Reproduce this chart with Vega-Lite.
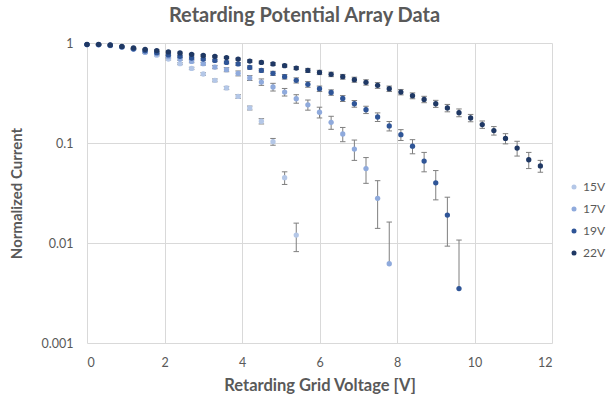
{
  "$schema": "https://vega.github.io/schema/vega-lite/v6.json",
  "width": 465,
  "height": 300,
  "autosize": {"type": "none"},
  "padding": {"left": 87, "top": 43, "right": 55, "bottom": 57},
  "background": "white",
  "title": {
    "text": "Retarding Potential Array Data",
    "font": "Lato",
    "fontSize": 20,
    "fontWeight": "bold",
    "color": "#595959",
    "anchor": "middle",
    "dx": -15,
    "offset": 11
  },
  "config": {
    "view": {"stroke": null},
    "axis": {
      "labelFont": "Lato",
      "labelFontSize": 12.5,
      "labelColor": "#595959",
      "titleFont": "Lato",
      "titleFontSize": 15,
      "titleFontWeight": "bold",
      "titleColor": "#595959",
      "gridColor": "#d9d9d9",
      "gridWidth": 1,
      "domain": false,
      "ticks": false
    },
    "legend": {
      "labelFont": "Lato",
      "labelFontSize": 12,
      "labelColor": "#595959"
    }
  },
  "data": {
    "values": [
      {"s":"15V","x":0,"y":0.965,"lo":0.955,"hi":0.975},
      {"s":"15V","x":0.3,"y":0.96,"lo":0.95,"hi":0.97},
      {"s":"15V","x":0.6,"y":0.94,"lo":0.93,"hi":0.95},
      {"s":"15V","x":0.9,"y":0.905,"lo":0.895,"hi":0.915},
      {"s":"15V","x":1.2,"y":0.865,"lo":0.855,"hi":0.875},
      {"s":"15V","x":1.5,"y":0.805,"lo":0.793,"hi":0.817},
      {"s":"15V","x":1.8,"y":0.755,"lo":0.743,"hi":0.767},
      {"s":"15V","x":2.1,"y":0.69,"lo":0.676,"hi":0.704},
      {"s":"15V","x":2.4,"y":0.621,"lo":0.607,"hi":0.635},
      {"s":"15V","x":2.7,"y":0.557,"lo":0.542,"hi":0.572},
      {"s":"15V","x":3.0,"y":0.49,"lo":0.475,"hi":0.505},
      {"s":"15V","x":3.3,"y":0.423,"lo":0.409,"hi":0.437},
      {"s":"15V","x":3.6,"y":0.355,"lo":0.342,"hi":0.368},
      {"s":"15V","x":3.9,"y":0.292,"lo":0.28,"hi":0.304},
      {"s":"15V","x":4.2,"y":0.224,"lo":0.214,"hi":0.234},
      {"s":"15V","x":4.5,"y":0.165,"lo":0.155,"hi":0.175},
      {"s":"15V","x":4.8,"y":0.103,"lo":0.095,"hi":0.111},
      {"s":"15V","x":5.1,"y":0.045,"lo":0.0385,"hi":0.0515},
      {"s":"15V","x":5.4,"y":0.012,"lo":0.0082,"hi":0.0158},

      {"s":"17V","x":0,"y":0.965,"lo":0.955,"hi":0.975},
      {"s":"17V","x":0.3,"y":0.96,"lo":0.95,"hi":0.97},
      {"s":"17V","x":0.6,"y":0.945,"lo":0.935,"hi":0.955},
      {"s":"17V","x":0.9,"y":0.91,"lo":0.898,"hi":0.922},
      {"s":"17V","x":1.2,"y":0.87,"lo":0.858,"hi":0.882},
      {"s":"17V","x":1.5,"y":0.81,"lo":0.795,"hi":0.825},
      {"s":"17V","x":1.8,"y":0.78,"lo":0.765,"hi":0.795},
      {"s":"17V","x":2.1,"y":0.73,"lo":0.712,"hi":0.748},
      {"s":"17V","x":2.4,"y":0.69,"lo":0.672,"hi":0.708},
      {"s":"17V","x":2.7,"y":0.655,"lo":0.635,"hi":0.675},
      {"s":"17V","x":3.0,"y":0.621,"lo":0.601,"hi":0.641},
      {"s":"17V","x":3.3,"y":0.575,"lo":0.553,"hi":0.597},
      {"s":"17V","x":3.6,"y":0.541,"lo":0.516,"hi":0.566},
      {"s":"17V","x":3.9,"y":0.497,"lo":0.469,"hi":0.525},
      {"s":"17V","x":4.2,"y":0.447,"lo":0.422,"hi":0.472},
      {"s":"17V","x":4.5,"y":0.407,"lo":0.377,"hi":0.437},
      {"s":"17V","x":4.8,"y":0.363,"lo":0.331,"hi":0.395},
      {"s":"17V","x":5.1,"y":0.323,"lo":0.295,"hi":0.351},
      {"s":"17V","x":5.4,"y":0.277,"lo":0.25,"hi":0.304},
      {"s":"17V","x":5.7,"y":0.241,"lo":0.213,"hi":0.269},
      {"s":"17V","x":6.0,"y":0.203,"lo":0.178,"hi":0.228},
      {"s":"17V","x":6.3,"y":0.161,"lo":0.137,"hi":0.185},
      {"s":"17V","x":6.6,"y":0.123,"lo":0.103,"hi":0.143},
      {"s":"17V","x":6.9,"y":0.087,"lo":0.067,"hi":0.107},
      {"s":"17V","x":7.2,"y":0.0555,"lo":0.0395,"hi":0.0715},
      {"s":"17V","x":7.5,"y":0.028,"lo":0.014,"hi":0.042},
      {"s":"17V","x":7.8,"y":0.0062,"lo":-0.0038,"hi":0.0162},

      {"s":"19V","x":0,"y":0.965,"lo":0.955,"hi":0.975},
      {"s":"19V","x":0.3,"y":0.965,"lo":0.955,"hi":0.975},
      {"s":"19V","x":0.6,"y":0.95,"lo":0.94,"hi":0.96},
      {"s":"19V","x":0.9,"y":0.915,"lo":0.905,"hi":0.925},
      {"s":"19V","x":1.2,"y":0.875,"lo":0.865,"hi":0.885},
      {"s":"19V","x":1.5,"y":0.835,"lo":0.82,"hi":0.85},
      {"s":"19V","x":1.8,"y":0.8,"lo":0.785,"hi":0.815},
      {"s":"19V","x":2.1,"y":0.76,"lo":0.745,"hi":0.775},
      {"s":"19V","x":2.4,"y":0.735,"lo":0.717,"hi":0.753},
      {"s":"19V","x":2.7,"y":0.708,"lo":0.69,"hi":0.726},
      {"s":"19V","x":3.0,"y":0.69,"lo":0.672,"hi":0.708},
      {"s":"19V","x":3.3,"y":0.67,"lo":0.65,"hi":0.69},
      {"s":"19V","x":3.6,"y":0.64,"lo":0.62,"hi":0.66},
      {"s":"19V","x":3.9,"y":0.617,"lo":0.597,"hi":0.637},
      {"s":"19V","x":4.2,"y":0.57,"lo":0.548,"hi":0.592},
      {"s":"19V","x":4.5,"y":0.532,"lo":0.51,"hi":0.554},
      {"s":"19V","x":4.8,"y":0.497,"lo":0.473,"hi":0.521},
      {"s":"19V","x":5.1,"y":0.46,"lo":0.436,"hi":0.484},
      {"s":"19V","x":5.4,"y":0.423,"lo":0.398,"hi":0.448},
      {"s":"19V","x":5.7,"y":0.386,"lo":0.361,"hi":0.411},
      {"s":"19V","x":6.0,"y":0.349,"lo":0.327,"hi":0.371},
      {"s":"19V","x":6.3,"y":0.32,"lo":0.30,"hi":0.34},
      {"s":"19V","x":6.6,"y":0.279,"lo":0.26,"hi":0.298},
      {"s":"19V","x":6.9,"y":0.247,"lo":0.228,"hi":0.266},
      {"s":"19V","x":7.2,"y":0.215,"lo":0.197,"hi":0.233},
      {"s":"19V","x":7.5,"y":0.182,"lo":0.164,"hi":0.20},
      {"s":"19V","x":7.8,"y":0.148,"lo":0.132,"hi":0.164},
      {"s":"19V","x":8.1,"y":0.121,"lo":0.106,"hi":0.136},
      {"s":"19V","x":8.4,"y":0.093,"lo":0.078,"hi":0.108},
      {"s":"19V","x":8.7,"y":0.066,"lo":0.0515,"hi":0.0805},
      {"s":"19V","x":9.0,"y":0.040,"lo":0.027,"hi":0.053},
      {"s":"19V","x":9.3,"y":0.019,"lo":0.0093,"hi":0.0287},
      {"s":"19V","x":9.6,"y":0.0035,"lo":-0.0037,"hi":0.0107},

      {"s":"22V","x":0,"y":0.97,"lo":0.96,"hi":0.98},
      {"s":"22V","x":0.3,"y":0.97,"lo":0.96,"hi":0.98},
      {"s":"22V","x":0.6,"y":0.955,"lo":0.945,"hi":0.965},
      {"s":"22V","x":0.9,"y":0.925,"lo":0.915,"hi":0.935},
      {"s":"22V","x":1.2,"y":0.895,"lo":0.885,"hi":0.905},
      {"s":"22V","x":1.5,"y":0.865,"lo":0.855,"hi":0.875},
      {"s":"22V","x":1.8,"y":0.84,"lo":0.825,"hi":0.855},
      {"s":"22V","x":2.1,"y":0.815,"lo":0.80,"hi":0.83},
      {"s":"22V","x":2.4,"y":0.795,"lo":0.78,"hi":0.81},
      {"s":"22V","x":2.7,"y":0.77,"lo":0.755,"hi":0.785},
      {"s":"22V","x":3.0,"y":0.75,"lo":0.735,"hi":0.765},
      {"s":"22V","x":3.3,"y":0.735,"lo":0.72,"hi":0.75},
      {"s":"22V","x":3.6,"y":0.715,"lo":0.70,"hi":0.73},
      {"s":"22V","x":3.9,"y":0.69,"lo":0.675,"hi":0.705},
      {"s":"22V","x":4.2,"y":0.66,"lo":0.64,"hi":0.68},
      {"s":"22V","x":4.5,"y":0.64,"lo":0.62,"hi":0.66},
      {"s":"22V","x":4.8,"y":0.617,"lo":0.597,"hi":0.637},
      {"s":"22V","x":5.1,"y":0.593,"lo":0.573,"hi":0.613},
      {"s":"22V","x":5.4,"y":0.562,"lo":0.542,"hi":0.582},
      {"s":"22V","x":5.7,"y":0.532,"lo":0.507,"hi":0.557},
      {"s":"22V","x":6.0,"y":0.508,"lo":0.483,"hi":0.533},
      {"s":"22V","x":6.3,"y":0.486,"lo":0.461,"hi":0.511},
      {"s":"22V","x":6.6,"y":0.46,"lo":0.435,"hi":0.485},
      {"s":"22V","x":6.9,"y":0.43,"lo":0.405,"hi":0.455},
      {"s":"22V","x":7.2,"y":0.404,"lo":0.379,"hi":0.429},
      {"s":"22V","x":7.5,"y":0.377,"lo":0.352,"hi":0.402},
      {"s":"22V","x":7.8,"y":0.349,"lo":0.327,"hi":0.371},
      {"s":"22V","x":8.1,"y":0.323,"lo":0.303,"hi":0.343},
      {"s":"22V","x":8.4,"y":0.297,"lo":0.277,"hi":0.317},
      {"s":"22V","x":8.7,"y":0.273,"lo":0.253,"hi":0.293},
      {"s":"22V","x":9.0,"y":0.247,"lo":0.227,"hi":0.267},
      {"s":"22V","x":9.3,"y":0.224,"lo":0.205,"hi":0.243},
      {"s":"22V","x":9.6,"y":0.201,"lo":0.183,"hi":0.219},
      {"s":"22V","x":9.9,"y":0.178,"lo":0.163,"hi":0.193},
      {"s":"22V","x":10.2,"y":0.153,"lo":0.14,"hi":0.166},
      {"s":"22V","x":10.5,"y":0.133,"lo":0.12,"hi":0.146},
      {"s":"22V","x":10.8,"y":0.111,"lo":0.098,"hi":0.124},
      {"s":"22V","x":11.1,"y":0.089,"lo":0.074,"hi":0.104},
      {"s":"22V","x":11.4,"y":0.068,"lo":0.0555,"hi":0.0805},
      {"s":"22V","x":11.7,"y":0.059,"lo":0.051,"hi":0.067}
    ]
  },
  "encoding": {
    "x": {
      "field": "x",
      "type": "quantitative",
      "scale": {"domain": [0, 12], "nice": false},
      "axis": {
        "title": "Retarding Grid Voltage [V]",
        "values": [0, 2, 4, 6, 8, 10, 12],
        "labelPadding": 13,
        "titlePadding": 9,
        "titleFontSize": 16.5
      }
    }
  },
  "layer": [
    {
      "transform": [{"filter": "datum.lo > 0"}],
      "mark": {"type": "rule", "color": "#7f7f7f", "strokeWidth": 1},
      "encoding": {
        "y": {
          "field": "lo",
          "type": "quantitative",
          "scale": {"type": "log", "domain": [0.001, 1], "nice": false},
          "axis": {
            "title": "Normalized Current",
            "values": [0.001, 0.01, 0.1, 1],
            "format": "~g",
            "labelPadding": 14,
            "titlePadding": 17
          }
        },
        "y2": {"field": "hi"}
      }
    },
    {
      "transform": [{"filter": "datum.lo <= 0"}],
      "mark": {"type": "rule", "color": "#7f7f7f", "strokeWidth": 1},
      "encoding": {
        "y": {"field": "y", "type": "quantitative"},
        "y2": {"field": "hi"}
      }
    },
    {
      "transform": [{"filter": "datum.lo > 0"}],
      "mark": {"type": "point", "shape": "M-1,0L1,0", "size": 30, "filled": false, "stroke": "#7f7f7f", "strokeWidth": 1, "opacity": 1},
      "encoding": {
        "y": {"field": "lo", "type": "quantitative"}
      }
    },
    {
      "mark": {"type": "point", "shape": "M-1,0L1,0", "size": 30, "filled": false, "stroke": "#7f7f7f", "strokeWidth": 1, "opacity": 1},
      "encoding": {
        "y": {"field": "hi", "type": "quantitative"}
      }
    },
    {
      "mark": {"type": "circle", "size": 28, "opacity": 1},
      "encoding": {
        "y": {"field": "y", "type": "quantitative"},
        "color": {
          "field": "s",
          "type": "nominal",
          "scale": {
            "domain": ["15V", "17V", "19V", "22V"],
            "range": ["#b4c7e7", "#8faadc", "#2f5597", "#1f3864"]
          },
          "legend": {
            "title": null,
            "orient": "none",
            "legendX": 481,
            "legendY": 138,
            "symbolType": "circle",
            "symbolSize": 25,
            "rowPadding": 10,
            "labelOffset": 3,
            "padding": 0
          }
        }
      }
    }
  ]
}
